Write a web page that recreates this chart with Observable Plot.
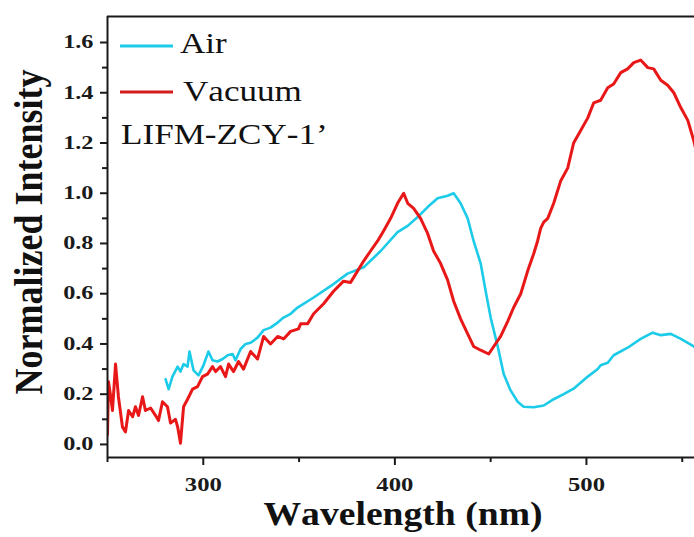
<!DOCTYPE html>
<html><head><meta charset="utf-8">
<script src="https://cdn.jsdelivr.net/npm/d3@7"></script>
<script src="https://cdn.jsdelivr.net/npm/@observablehq/plot@0.6"></script>
<style>
body{margin:0;background:#fff}
#chart svg{display:block}
text{font-kerning:none}
</style>
</head><body><div id="chart"></div>
<script>
// ---- data ----
const vacuumNm = [250.0,250.5,251.5,252.6,254.2,255.7,257.8,259.4,261.0,263.1,264.6,266.2,268.3,269.8,272.5,275.1,276.6,278.7,281.3,282.9,285.5,286.6,288.1,289.7,291.8,294.4,297.0,299.6,302.2,304.8,306.4,309.0,311.6,313.2,315.8,318.4,321.0,324.7,328.3,331.5,335.1,338.8,341.9,345.6,349.7,350.8,354.4,357.6,362.8,368.0,373.2,376.9,380.5,383.7,387.3,391.0,394.1,397.8,401.4,404.6,406.7,409.8,413.4,417.1,420.2,423.9,427.5,430.7,434.3,438.0,441.1,444.8,449.0,451.6,455.2,458.9,462.0,465.7,469.3,472.5,474.5,476.1,477.7,479.8,482.9,486.6,490.2,493.3,497.0,500.7,503.8,507.4,511.1,514.2,517.9,521.5,524.7,528.3,532.0,535.1,538.8,542.4,545.6,549.3,552.9,556.0,557.5];
const vacuumI = [0.04,0.25,0.20,0.135,0.32,0.19,0.07,0.05,0.135,0.11,0.15,0.115,0.19,0.135,0.145,0.115,0.095,0.17,0.15,0.085,0.10,0.07,0.005,0.15,0.18,0.22,0.23,0.27,0.28,0.31,0.29,0.31,0.27,0.32,0.29,0.33,0.30,0.37,0.34,0.43,0.40,0.43,0.42,0.45,0.46,0.48,0.48,0.52,0.56,0.61,0.65,0.645,0.69,0.73,0.77,0.81,0.85,0.90,0.96,1.00,0.96,0.94,0.90,0.84,0.77,0.72,0.655,0.57,0.50,0.44,0.39,0.375,0.36,0.39,0.43,0.49,0.545,0.60,0.69,0.76,0.81,0.86,0.885,0.90,0.96,1.05,1.10,1.20,1.25,1.30,1.36,1.37,1.42,1.435,1.48,1.495,1.52,1.53,1.50,1.495,1.45,1.43,1.40,1.34,1.29,1.21,1.16];
const airNm = [280.3,281.9,283.9,286.6,288.1,289.7,291.8,292.8,294.9,297.5,300.1,302.7,304.8,307.4,310.1,312.7,315.3,316.8,319.5,322.1,324.7,328.3,331.5,335.1,338.8,341.9,345.6,349.2,357.6,366.4,375.3,383.7,392.6,401.4,406.7,411.9,417.1,422.3,427.5,430.7,434.3,438.0,441.1,444.8,447.4,450.0,453.7,456.8,460.4,464.1,467.2,472.5,477.7,482.9,488.1,493.3,500.7,505.9,507.4,511.1,514.2,521.5,528.3,534.6,538.8,544.0,549.3,556.0,557.5];
const airI = [0.26,0.22,0.27,0.31,0.29,0.32,0.31,0.37,0.295,0.275,0.315,0.37,0.335,0.33,0.34,0.355,0.36,0.335,0.38,0.40,0.405,0.425,0.455,0.465,0.485,0.505,0.52,0.545,0.585,0.63,0.68,0.705,0.77,0.845,0.87,0.905,0.945,0.98,0.99,1.00,0.96,0.90,0.81,0.72,0.61,0.505,0.39,0.28,0.215,0.17,0.15,0.148,0.155,0.18,0.20,0.222,0.27,0.30,0.315,0.325,0.355,0.385,0.42,0.445,0.435,0.44,0.42,0.39,0.385];
const seriesNames = ["Air", "Vacuum"];
const seriesColors = ["#1ccbe8", "#e81818"];
const sampleLabel = "LIFM-ZCY-1\u2019";
const yMajor = [0, 0.2, 0.4, 0.6, 0.8, 1.0, 1.2, 1.4, 1.6];
const yMinor = [0.1, 0.3, 0.5, 0.7, 0.9, 1.1, 1.3, 1.5];
const xMajor = [300, 400, 500];
const xMinor = [250, 350, 450, 550];
const xTitle = "Wavelength (nm)";
const yTitle = "Normalized Intensity";

// ---- build table ----
const rows = [];
airNm.forEach((x, i) => rows.push({series: "Air", nm: x, v: airI[i]}));
vacuumNm.forEach((x, i) => rows.push({series: "Vacuum", nm: x, v: vacuumI[i]}));

const serif = "'Liberation Serif','Times New Roman',serif";
const X0 = 250, X1 = 556.4, Y0 = -0.052, Y1 = 1.7035;
const axisColor = "#1a1a1a";

const svg = Plot.plot({
  width: 694, height: 537,
  marginLeft: 107, marginRight: 0, marginTop: 16, marginBottom: 80,
  style: {fontFamily: serif, background: "#fff", color: axisColor},
  x: {domain: [X0, X1]},
  y: {domain: [Y0, Y1]},
  color: {domain: seriesNames, range: seriesColors},
  marks: [
    Plot.line(rows.filter(d => d.series === "Air"), {x: "nm", y: "v", stroke: "series", strokeWidth: 2.6, clip: true}),
    Plot.line(rows.filter(d => d.series === "Vacuum"), {x: "nm", y: "v", stroke: "series", strokeWidth: 3, clip: true}),
    Plot.axisY(yMajor, {tickSize: 7, tickPadding: 7, tickFormat: d3.format(".1f"), fontSize: 18, fontWeight: "bold", label: null, strokeWidth: 2}),
    Plot.axisY(yMinor, {tickSize: 5, tickFormat: () => "", label: null, strokeWidth: 2}),
    Plot.axisX(xMajor, {tickSize: 8, tickPadding: 12, tickFormat: d3.format("d"), fontSize: 19, fontWeight: "bold", label: null, strokeWidth: 2}),
    Plot.axisX(xMinor, {tickSize: 5, tickFormat: () => "", label: null, strokeWidth: 2}),
    Plot.ruleX([X0], {stroke: axisColor, strokeWidth: 2}),
    Plot.ruleY([Y0], {stroke: axisColor, strokeWidth: 2}),
    Plot.ruleY([Y1], {stroke: axisColor, strokeWidth: 2})
  ]
});
document.getElementById("chart").appendChild(svg);
const root = d3.select(svg);

// ---- widen glyphs (reference text is horizontally stretched) without moving anchors ----
function stretch(sel, s) {
  sel.each(function () {
    const L = this.getComputedTextLength();
    if (L > 0) {
      this.setAttribute("textLength", (L * s).toFixed(2));
      this.setAttribute("lengthAdjust", "spacingAndGlyphs");
    }
  });
}
stretch(root.selectAll('g[aria-label="y-axis tick label"] text'), 1.35);
stretch(root.selectAll('g[aria-label="x-axis tick label"] text'), 1.3);

// ---- axis titles ----
const xt = root.append("text")
  .attr("x", 403).attr("y", 525)
  .attr("text-anchor", "middle")
  .attr("font-family", serif).attr("font-weight", "bold").attr("font-size", 33)
  .attr("fill", "#111")
  .text(xTitle);
stretch(xt, 1.14);
root.append("text")
  .attr("transform", "translate(42,232) rotate(-90) scale(1,1.12)")
  .attr("text-anchor", "middle")
  .attr("font-family", serif).attr("font-weight", "bold").attr("font-size", 36)
  .attr("fill", "#111")
  .text(yTitle);

// ---- legend ----
const leg = root.append("g").attr("font-family", serif).attr("font-size", 30).attr("fill", "#111").attr("text-anchor", "start");
const legY = [46, 92], legTextY = [53, 101], legTextX = [180, 183];
const legLineColors = ["#1ccbe8", "#d41c1c"];
seriesNames.forEach((name, i) => {
  leg.append("line").attr("x1", 120).attr("x2", 173).attr("y1", legY[i]).attr("y2", legY[i])
    .attr("stroke", legLineColors[i]).attr("stroke-width", 3);
  leg.append("text").attr("x", legTextX[i]).attr("y", legTextY[i]).text(name);
});
leg.append("text").attr("x", 121).attr("y", 144).text(sampleLabel);
stretch(leg.selectAll("text"), 1.17);
</script>
</body></html>
